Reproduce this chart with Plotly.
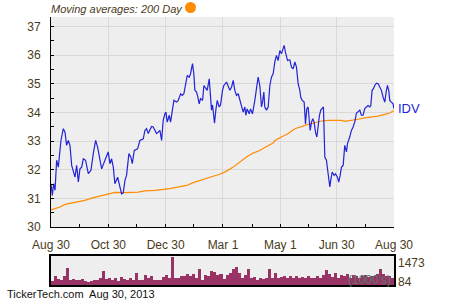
import pandas as pd
import plotly.graph_objects as go

base_date = pd.Timestamp("2012-08-30")

# Price (IDV) : day offset from Aug 30 2012, close value
price_days = [0, 1.4, 2.8, 4.3, 6.0, 7.8, 10.6, 13.1, 14.9, 16.6, 18.4, 20.2, 22.0, 25.5, 27.3, 29.1, 30.8,
              32.6, 34.4, 36.8, 39.7, 42.5, 45.0, 47.5, 49.6, 52.1, 53.9, 57.4, 60.9, 62.7, 64.5, 66.3,
              68.0, 70.9, 73.4, 75.1, 76.9, 78.7, 80.4, 82.9, 85.0, 86.5, 88.6, 92.1, 94.6, 98.2, 99.9,
              101.7, 103.5, 105.3, 107.0, 108.8, 110.6, 112.3, 114.1, 115.9, 117.7, 119.4, 121.2,
              122.3, 123.7, 125.8, 127.2, 129.4, 130.8, 133.6, 135.4, 137.9, 139.6, 141.4, 143.5, 145.0,
              147.1, 148.5, 150.6, 152.0, 153.1, 154.9, 156.3, 157.7, 159.1, 161.3, 162.7, 164.8, 166.2,
              168.4, 169.8, 170.8, 171.9, 174.0, 175.4, 176.9, 179.0, 180.4, 182.5, 183.9, 186.8, 188.6,
              190.3, 192.1, 193.9, 195.6, 197.4, 199.2, 201.0, 202.7, 204.5, 206.3, 207.3, 208.8, 210.9,
              212.3, 214.4, 216.9, 218.7, 220.4, 222.2, 224.0, 225.1, 226.5, 227.5, 229.3, 231.1, 232.9,
              234.6, 236.4, 238.2, 239.9, 241.7, 242.8,
              243.5, 245.3, 247.1, 248.1, 249.5, 251.7, 254.1, 255.9, 257.7, 259.5, 261.2, 263.0, 264.8,
              265.8, 267.3, 269.4, 270.8, 272.2, 273.6, 274.7, 275.8, 277.2, 278.6, 280.0, 281.4, 282.9,
              284.3, 285.7, 287.1, 288.5, 289.9, 291.4, 293.1, 294.9, 296.7, 297.7, 299.2, 301.3, 302.7,
              304.8, 306.2, 307.7, 309.1, 310.9, 312.6, 314.4, 315.5, 317.9, 319.7, 321.5, 323.3, 325.0,
              326.8, 328.6, 330.3, 332.1, 333.9, 335.7, 337.4, 339.2, 340.3, 341.7, 343.1, 344.5, 346.3,
              348.1, 349.8, 351.6, 353.4, 355.2, 356.9, 358.0, 359.4, 360.5, 362.2, 364.0, 365.0]
price_vals = [31.51, 31.10, 31.51, 31.28, 32.33, 32.09, 33.02, 33.43, 33.31, 32.85, 33.02, 32.85, 32.15, 31.74,
              32.15, 31.57, 32.03, 32.09, 32.38, 32.33, 31.86, 31.98, 32.56, 33.02, 32.79, 32.38, 32.03,
              32.33, 32.62, 32.21, 32.38, 32.09, 31.51, 31.74, 31.40, 31.16, 31.19, 31.63, 31.80, 32.56,
              32.44, 32.21, 32.67, 32.73, 33.02, 33.08, 33.37, 33.43, 33.26, 33.37, 33.51, 33.49, 33.37,
              33.26, 33.31, 33.37, 33.02, 33.72, 33.95,
              34.01, 33.66, 33.90, 33.66, 34.12, 34.42, 34.36, 34.42, 34.65, 34.59, 34.65, 35.00, 35.29,
              35.23, 35.35, 35.70, 35.35, 34.77, 34.71, 34.53, 34.30, 34.48, 34.42, 34.94, 34.83, 34.77,
              35.17, 34.53, 34.08, 34.26, 33.62, 34.08, 34.42, 34.19, 34.26, 34.77, 34.94, 35.06, 34.94,
              34.77, 34.88, 35.12, 34.77, 34.59, 34.65, 34.42, 34.30, 34.01, 34.19, 33.90, 34.12, 33.95,
              34.12, 33.95, 34.42, 34.94, 35.23, 34.94, 34.19, 34.36, 34.71, 34.19, 34.08, 34.19, 34.94,
              35.23, 35.35, 35.76, 35.99, 35.81, 36.10,
              36.16, 36.05, 36.22, 36.34, 36.10, 35.81, 35.84, 35.58, 35.52, 35.76, 35.58, 35.00, 34.77,
              34.53, 34.42, 34.36, 33.60, 34.13, 34.19, 33.78, 33.37, 33.66, 33.78, 33.66, 33.31, 33.14,
              33.60, 33.90, 34.08, 34.13, 34.19, 32.44, 32.33, 31.86, 31.40, 31.63, 31.92, 31.80, 31.86,
              31.74, 31.57, 31.80, 32.09, 32.15, 32.85, 32.62, 32.91, 33.14, 33.37, 33.49, 33.67, 33.97,
              34.01, 34.08, 33.90, 33.90, 34.13, 34.19, 34.24, 34.19, 34.24, 34.77, 34.83, 34.94, 35.02,
              35.00, 34.88, 34.77, 34.53, 34.36, 34.77, 34.94, 34.77, 34.42, 34.36, 34.30, 34.13]

# 200 day moving average
ma_days = [0, 9.6, 14.9, 22.0, 29.1, 36.1, 43.2, 50.3, 57.4, 64.5, 68.0, 78.7, 92.9, 99.9, 110.6,
           126.5, 137.2, 144.3, 151.3, 158.4, 165.5, 172.6, 179.7, 186.8, 193.9, 201.0, 208.0, 215.1,
           222.2, 229.3, 236.4, 238.2, 245.3, 252.4, 259.5, 266.6, 273.6, 280.7, 287.8, 294.9, 309.1,
           312.6, 319.7, 326.8, 333.9, 341.0, 348.1, 355.2, 360.5, 365.0]
ma_vals = [30.60, 30.70, 30.79, 30.84, 30.87, 30.93, 31.01, 31.07, 31.14, 31.19, 31.21, 31.20, 31.22, 31.26,
           31.28, 31.34, 31.40, 31.45, 31.55, 31.63, 31.69, 31.77, 31.84, 31.95, 32.09, 32.27, 32.44,
           32.58, 32.67, 32.81, 32.93, 33.02, 33.14, 33.26, 33.43, 33.51, 33.58, 33.64, 33.70, 33.72,
           33.72, 33.69, 33.72, 33.76, 33.81, 33.84, 33.87, 33.93, 33.98, 34.07]

# Volume (1000's), evenly spaced over the year
volume_vals = [210, 455, 300, 280, 455, 900, 245, 315, 280, 280, 315, 210, 175, 210, 280, 280, 350, 700,
               315, 385, 280, 350, 210, 420, 315, 245, 385, 245, 630, 280, 245, 525, 350, 490, 280, 245,
               280, 420, 525,
               385, 1450, 350, 350, 455, 490, 595, 455, 560, 350, 840, 280, 525, 490, 735, 665, 525, 560,
               315, 525, 630, 805, 910, 630, 385, 525, 805, 385, 420, 280, 350, 315, 385, 805, 350, 630,
               350, 420, 490,
               385, 455, 350, 490, 385, 420, 350, 490, 385, 350, 455, 385, 525, 770, 560, 420, 630, 385,
               525, 455, 560, 385, 525, 455, 385, 490, 525, 420, 455, 490, 595, 840, 560, 455, 490, 385]

x_tick_dates = ["2012-08-30", "2012-10-30", "2012-12-30", "2013-03-01", "2013-05-01", "2013-06-30", "2013-08-30"]
x_tick_labels = ["Aug 30", "Oct 30", "Dec 30", "Mar 1", "May 1", "Jun 30", "Aug 30"]
x_minor_dates = ["2012-09-29", "2012-11-29", "2013-01-29", "2013-04-01", "2013-05-31", "2013-07-31"]
y_ticks = [30, 31, 32, 33, 34, 35, 36, 37]
vol_labels = ["1473", "84"]

price_x = [base_date + pd.to_timedelta(d, unit="D") for d in price_days]
ma_x = [base_date + pd.to_timedelta(d, unit="D") for d in ma_days]
n_vol = len(volume_vals)
step = 365.0 / n_vol
vol_x = [base_date + pd.to_timedelta((i + 0.5) * step, unit="D") for i in range(n_vol)]

txt = "#4a3a1a"
font_family = "Liberation Sans, Arial, sans-serif"

fig = go.Figure()
fig.add_trace(go.Scatter(x=ma_x, y=ma_vals, mode="lines", line=dict(color="#ff8c00", width=1.2),
                         xaxis="x", yaxis="y", hoverinfo="skip"))
fig.add_trace(go.Scatter(x=price_x, y=price_vals, mode="lines", line=dict(color="#2323d8", width=1.2),
                         xaxis="x", yaxis="y", hoverinfo="skip"))
fig.add_trace(go.Bar(x=vol_x, y=volume_vals, marker=dict(color="#993366", line=dict(width=0)),
                     width=step * 86400000, xaxis="x2", yaxis="y2", hoverinfo="skip"))

x_range = [base_date, base_date + pd.to_timedelta(365, unit="D")]

fig.update_layout(
    template="none",
    width=450, height=300, margin=dict(l=0, r=0, t=0, b=0, pad=0, autoexpand=False),
    paper_bgcolor="white", plot_bgcolor="#eeeeee", showlegend=False, bargap=0,
    font=dict(family=font_family, size=12, color=txt),
    xaxis=dict(domain=[51 / 450, 394 / 450], range=x_range, tickmode="array", automargin=False,
               tickvals=x_tick_dates, ticktext=x_tick_labels, showgrid=True, gridcolor="#d9d9d9",
               gridwidth=1, ticks="inside", ticklen=3, tickcolor="black", showline=True,
               linecolor="black", linewidth=1, anchor="y", zeroline=False, ticklabelstandoff=7,
               tickfont=dict(size=12, color=txt),
               minor=dict(tickmode="array", tickvals=x_minor_dates, ticks="inside", ticklen=3,
                          tickcolor="black", showgrid=False)),
    yaxis=dict(domain=[1 - 227 / 300, 1 - 17 / 300], range=[30, 37.33], tickmode="array", automargin=False,
               tickvals=y_ticks, showgrid=True, gridcolor="#d9d9d9", gridwidth=1, ticks="inside",
               ticklen=3, tickcolor="black", showline=True, linecolor="black", linewidth=1,
               zeroline=False, anchor="x", ticklabelstandoff=7, tickfont=dict(size=12, color=txt),
               minor=dict(dtick=0.5, ticks="inside", ticklen=3, tickcolor="black", showgrid=False)),
    xaxis2=dict(domain=[51 / 450, 394 / 450], range=x_range, showticklabels=False, showgrid=False,
                showline=True, linecolor="black", linewidth=1.5, mirror=True, anchor="y2",
                zeroline=False, ticks="", automargin=False),
    yaxis2=dict(domain=[1 - 285 / 300, 1 - 256 / 300], range=[0, 1500], showticklabels=False,
                showgrid=False, showline=True, linecolor="black", linewidth=1.5, mirror=True,
                anchor="x2", zeroline=False, ticks="", automargin=False),
)

fig.add_annotation(x=49 / 450, y=1 - 9 / 300, xref="paper", yref="paper", xanchor="left", yanchor="middle",
                   text="<i>Moving averages: 200 Day</i>", showarrow=False,
                   font=dict(size=11, color=txt, family=font_family))
fig.add_shape(type="circle", xref="paper", yref="paper", x0=185 / 450, x1=196 / 450,
              y0=1 - 13 / 300, y1=1 - 2 / 300, fillcolor="#ff8c00", line=dict(width=0))
fig.add_annotation(x=price_x[-1], y=price_vals[-1], xref="x", yref="y", xanchor="left", yanchor="middle",
                   xshift=2, text="IDV", showarrow=False, font=dict(size=13, color="#2323d8"))
fig.add_annotation(x=396 / 450, y=1 - 263 / 300, xref="paper", yref="paper", xanchor="left",
                   yanchor="middle", text=vol_labels[0], showarrow=False, font=dict(size=12, color=txt))
fig.add_annotation(x=396 / 450, y=1 - 282 / 300, xref="paper", yref="paper", xanchor="left",
                   yanchor="middle", text=vol_labels[1], showarrow=False, font=dict(size=12, color=txt))
fig.add_annotation(x=393 / 450, y=1 - 280 / 300, xref="paper", yref="paper", xanchor="right",
                   yanchor="middle", text="(1000's)", showarrow=False, font=dict(size=12, color="#557a6a"))
fig.add_annotation(x=5 / 450, y=1 - 294 / 300, xref="paper", yref="paper", xanchor="left",
                   yanchor="middle", text="TickerTech.com  Aug 30, 2013", showarrow=False,
                   font=dict(size=11, color="#111111"))

fig.write_html("out.html")
